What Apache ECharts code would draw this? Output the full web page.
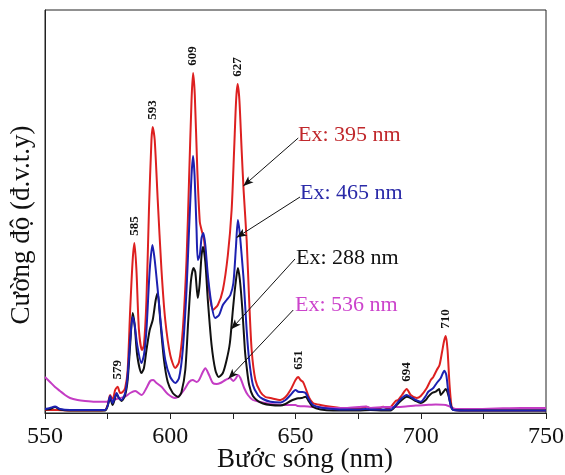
<!DOCTYPE html>
<html><head><meta charset="utf-8">
<script src="https://cdn.jsdelivr.net/npm/echarts@6/dist/echarts.min.js"></script>
<style>html,body{margin:0;padding:0;background:#fff}#c{width:565px;height:475px}</style>
</head><body><div id="c"></div>
<script>
// Emission spectra (arbitrary units) for four excitation wavelengths
const redNm  = [550,555,560,565,570,574,575,576,577,578,579,580,581,582,583,584,585,585.7,586.5,587.5,588.7,589.5,590.5,591.5,592.5,593,593.8,595,596.5,598,600,602,603.5,605,606.5,607.5,608.5,609.1,609.8,610.8,611.8,612.5,613.5,615,617,619,621,623,624.5,625.5,626.3,626.9,627.6,628.5,629.3,630.5,631.5,632.5,634,636,638,640,644,646,648,650,651.1,652,653,654,655.5,657,660,665,670,675,678.4,680,683,685,687,690,691,692.5,694.4,696,698.4,700,702.4,704,705,706.4,707.5,708.5,709.4,710,710.7,711.5,712.4,713.5,720,730,740,750];
const redVal = [3,3,2.5,2.5,2.5,3,8,18,13,23,26.3,20,21,25,43,103,153,170,143,83,63,68,113,203,273,286,273,213,143,93,58,45,51,83,153,233,313,340,318,243,191,183,173,133,103,108,123,158,203,263,313,329,313,263,222,173,113,63,33,21,16,15,13,16,23,33,36,33,31,25,15,10,8,6,4.5,4,6.3,4,4,6.3,4,12,13,18,24,18,15,17,25,33,36,43,48,61,73,77,63,28,5,3,2.5,2.5,2.5,2.5];

const blueNm  = [550,552,554,556,560,565,570,574,575,576,577,578.6,579.5,580.6,582,583,584,585,585.8,586.8,588.5,589.5,590.5,591.8,592.9,593.8,595,596.5,598,600,602,603.5,605,606.5,607.5,608.5,609.1,609.7,610.5,611,611.8,612.5,613.2,614,615,616.5,617.9,619.5,621,622.5,624,625.2,626.2,627,627.7,628.5,629.3,630.5,631.5,633,635,637,640,644,646,648,650,651.1,652.5,654,655.5,657,660,665,670,675,678,680,685,688,690,692,694.4,696,698,700,702,703,705,706.4,708,709.4,710.2,711,712,713,720,750];
const blueVal = [4,5,6.5,4,3,3,3,3,7,17,10,20,15,13,20,38,73,96,88,68,50,58,83,143,168,153,123,83,53,36,30,35,63,123,183,238,257,238,183,153,158,175,180,168,138,108,95,98,108,113,118,130,165,193,181,158,133,83,53,28,18,14,11.3,10.5,13,18,23,21.3,21,20,13,8,5.5,4,3.5,3.5,4,3.5,3.5,3.5,8,14,18,16,13,11.3,17,21.3,25,30,35,42.3,38,21,7,3,2.5,2.5];

const blackNm  = [550,552,554,556,560,565,570,574,575,576,577,578.6,579.5,580.6,582,583,584,585,585.8,586.8,588.5,589.5,590.5,591.8,593,594.2,595,596,597.5,599,601,603.2,604.5,606,607.2,608.3,609.3,610,611,611.7,612.5,613.1,614,615,616.5,618,619.3,621,622.5,623.8,625,626,627,627.8,628.8,629.8,630.5,631.5,633,635,637,640,644,646,648,650,651.1,652.5,654,655.5,657,660,665,670,675,680,685,688,690,692,694.4,696,698,700,702,703,704.5,706,707.3,708,709,710,711,712,713,720,750];
const blackVal = [3.5,4,6,3.5,2.5,2.5,2.5,2.5,7,15,8,19,15,12,18,33,68,100,88,58,40,45,63,83,93,113,120,93,53,31,20,16,21,43,93,133,145,141,115,128,158,166,151,113,68,43,36,40,53,70,103,128,145,133,103,63,46,28,17,12,9.5,8,7.5,9,12,14,14.7,15,16.3,11,6,3.5,2.5,2.5,2.5,3,2.5,2.5,7,12,16.3,15,12,10,13,16.3,20,21.3,24,18,21,24,18,8,3,2.5,2.5];

const magNm  = [550,552,554,556,558,560,563,566,570,574.6,576,578,580,582,584,586,588.6,590.5,592,593.2,594.5,596.6,599,601.9,603.5,605.5,607.5,609,610.5,611.5,613,614,615.5,617,618.5,620,622,623.8,625.2,626.3,627,628,629.5,631,633,636,640,645,650,651,655,660,670,678,680,685,690,694,698,702,706,710,712,714,720,730,740,750];
const magVal = [36,31,26,22,18,15,13,12,11.3,11.3,12.5,13.5,15,16.3,20,22,18,25,32,33,30,26,19,15,17,23,31,33,31,33,41,44.7,38,30,29,30,33,35,32,35,38,35,25,18,13,11,9,8,8,7,6.5,5.5,5,6.5,5,6,6,6.5,7.5,8,8.5,8,6,4,4,4.5,5,5];

const seriesNames = ['Ex: 395 nm','Ex: 465 nm','Ex: 288 nm','Ex: 536 nm'];
const peakLabels = ['579','585','593','609','627','651','694','710'];
const peakNm = [579,585,593,609,627,651,694,710];
// arrows: start (near label) and tip wavelength on the curve
const arrowStartNm = [651.1,651.8,649.8,649.1];
const arrowStartV  = [275,216,154,103];
const arrowTipNm   = [629.2,626.5,624.3,623.2];

const FONT = "'Times New Roman','Liberation Serif',serif";
const curveColors = ['#dd2020','#1c20b0','#111111','#c43cc4'];
const textColors  = ['#c0282c','#2a2aa8','#111111','#cc44cc'];

function interp(xs, ys, x){
  for (let i=0;i<xs.length-1;i++){
    if (x>=xs[i] && x<=xs[i+1]){ const t=(x-xs[i])/(xs[i+1]-xs[i]); return ys[i]+t*(ys[i+1]-ys[i]); }
  }
  return ys[ys.length-1];
}
function pairs(xs, ys){ return xs.map((x,i)=>[x, ys[i]]); }
function localMax(xs, ys, c){
  let best=[c, interp(xs,ys,c)];
  xs.forEach((x,i)=>{ if (Math.abs(x-c)<=1.2 && ys[i]>best[1]) best=[x,ys[i]]; });
  return best;
}

const all = [[redNm,redVal],[blueNm,blueVal],[blackNm,blackVal],[magNm,magVal]];

function arrowFor(k){
  const [xs,ys]=all[k];
  return {
    silent:true, symbol:['none','arrow'], symbolSize:9, animation:false,
    lineStyle:{color:'#111', width:1, type:'solid'}, label:{show:false},
    emphasis:{disabled:true},
    data:[[
      {coord:[arrowStartNm[k], arrowStartV[k]], symbol:'none', symbolSize:0},
      {coord:[arrowTipNm[k], interp(xs,ys,arrowTipNm[k])], symbol:'arrow', symbolSize:[6,10], itemStyle:{color:'#111'}}
    ]]
  };
}

const peakMarks = peakNm.map((p,i)=>{
  const m = localMax(redNm, redVal, p);
  return {name: peakLabels[i], coord:[m[0], m[1]+17]};
});

const order = [0,3,2,1]; // drawing order: red, magenta, black, blue
const series = order.map(k=>{
  const s = {
    name: seriesNames[k], type:'line', data: pairs(all[k][0], all[k][1]),
    showSymbol:false, smooth:0.25,
    lineStyle:{color:curveColors[k], width:2}, itemStyle:{color:curveColors[k]},
    markLine: arrowFor(k), z: 2
  };
  if (k===0){
    s.markPoint = {
      symbol:'circle', symbolSize:1, itemStyle:{color:'rgba(0,0,0,0)'}, silent:true,
      label:{show:true, position:'inside', formatter:'{b}', rotate:90, color:'#111',
             fontFamily:FONT, fontWeight:'bold', fontSize:13},
      data: peakMarks
    };
  }
  return s;
});

const textTops = [124,182,247,294];
const textLefts = [298,300,296,295];
const graphic = seriesNames.map((t,k)=>({
  type:'text', left:textLefts[k], top:textTops[k],
  style:{text:t, fill:textColors[k], font:'22px '+FONT}
}));

const chart = echarts.init(document.getElementById('c'), null, {renderer:'canvas'});
chart.setOption({
  animation:false,
  backgroundColor:'#fff',
  grid:{left:45, right:19, top:10, bottom:62, show:true, borderColor:'#222', borderWidth:1,
        containLabel:false, outerBoundsMode:'none'},
  xAxis:{
    type:'value', min:550, max:750, interval:50,
    name:'Bước sóng (nm)', nameLocation:'middle', nameGap:33, nameMoveOverlap:false,
    nameTextStyle:{fontFamily:FONT, fontSize:27, color:'#111', padding:[0,0,0,19]},
    axisLine:{onZero:false, lineStyle:{color:'#222', width:1}},
    axisTick:{show:true, inside:false, length:6, lineStyle:{color:'#222'}},
    minorTick:{show:true, splitNumber:2, length:6, lineStyle:{color:'#222'}},
    splitLine:{show:false}, minorSplitLine:{show:false},
    axisLabel:{fontFamily:FONT, fontSize:24, color:'#111', margin:12}
  },
  yAxis:{
    type:'value', min:0, max:403,
    name:'Cường độ (đ.v.t.y)', nameLocation:'middle', nameGap:10, nameRotate:90, nameMoveOverlap:false,
    nameTextStyle:{fontFamily:FONT, fontSize:27, color:'#111', padding:[0,27,0,0]},
    axisLine:{show:true, lineStyle:{color:'#222', width:1}},
    axisTick:{show:false}, axisLabel:{show:false}, splitLine:{show:false}
  },
  series: series,
  graphic: graphic
});
</script>
</body></html>
